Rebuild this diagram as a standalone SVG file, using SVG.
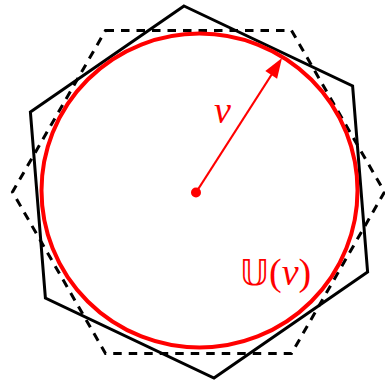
<svg xmlns="http://www.w3.org/2000/svg" width="385" height="380" viewBox="0 0 385 380">
<style>
.solid{fill:none;stroke:#000;stroke-width:3;stroke-linejoin:miter}
.dashed{fill:none;stroke:#000;stroke-width:3;stroke-dasharray:8.5 7}
.red{fill:none;stroke:#f00;stroke-width:4}
.lbl{fill:#f00;font-family:"Liberation Serif","DejaVu Serif",serif;font-size:38px}
</style>
<rect width="385" height="380" fill="#fff"/>
<g id="dashed-hexagon">
<polygon class="dashed" points="105.5,30.5 291.5,30.5 384.5,192 291.5,353.5 105.5,353.5 12.5,192"/>
</g>
<g id="solid-hexagon">
<polygon class="solid" points="184,6 352.6,86 367.6,272 214,378 45.4,298 30.4,112"/>
</g>
<g id="circle">
<ellipse class="red" cx="199.5" cy="190.5" rx="158" ry="157"/>
</g>
<g id="connectors">
<line x1="196" y1="192.5" x2="272" y2="74" stroke="#f00" stroke-width="2.2"/>
<polygon points="282,58 277.1,78.7 265.3,71.1" fill="#f00"/>
<circle cx="196" cy="192.5" r="5" fill="#f00"/>
</g>
<g id="labels">
<text class="lbl" x="214" y="123" font-style="italic">v</text>
<text class="lbl" x="240" y="285"><tspan font-family="'DejaVu Sans',sans-serif" font-size="35" font-weight="normal">𝕌</tspan>(<tspan font-style="italic">v</tspan>)</text>
</g>
</svg>
